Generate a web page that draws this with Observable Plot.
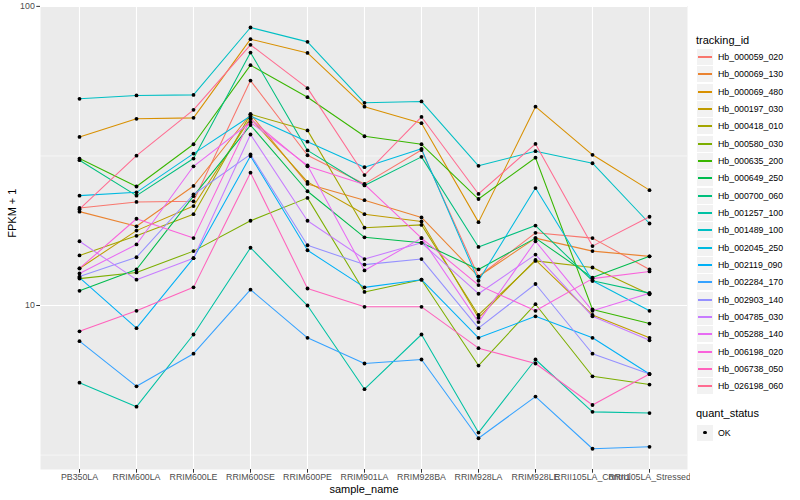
<!DOCTYPE html>
<html><head><meta charset="utf-8">
<script src="https://cdn.jsdelivr.net/npm/d3@7"></script>
<script src="https://cdn.jsdelivr.net/npm/@observablehq/plot@0.6"></script>
<style>
body{margin:0;background:#fff;font-family:"Liberation Sans",Arial,Helvetica,sans-serif;}
#wrap{position:relative;width:800px;height:500px;overflow:hidden;}
#chart{position:absolute;left:0;top:0;}
#legend{position:absolute;left:696px;top:0;width:104px;}
.ltitle{position:absolute;left:0;font-size:11px;color:#000;white-space:nowrap;line-height:13px;}
.lrow{position:absolute;left:0;height:17px;display:flex;align-items:center;}
.lkey{width:16px;height:16px;background:#F2F2F2;border:0.5px solid #fff;position:relative;flex:none;}
.lline{position:absolute;left:1px;width:14px;top:7px;height:2px;}
.ldot{position:absolute;left:6.2px;top:6.2px;width:3.8px;height:3.8px;border-radius:50%;background:#000;}
.llab{font-size:8.8px;color:#000;margin-left:4px;white-space:nowrap;}
</style></head><body>
<div id="wrap"><div id="chart"></div><div id="legend"></div></div>
<script>
const samples = ["PB350LA","RRIM600LA","RRIM600LE","RRIM600SE","RRIM600PE","RRIM901LA","RRIM928BA","RRIM928LA","RRIM928LE","RRII105LA_Control","RRII105LA_Stressed"];
const trackingIds = ["Hb_000059_020","Hb_000069_130","Hb_000069_480","Hb_000197_030","Hb_000418_010","Hb_000580_030","Hb_000635_200","Hb_000649_250","Hb_000700_060","Hb_001257_100","Hb_001489_100","Hb_002045_250","Hb_002119_090","Hb_002284_170","Hb_002903_140","Hb_004785_030","Hb_005288_140","Hb_006198_020","Hb_006738_050","Hb_026198_060"];
const palette = ["#F8766D","#EA8331","#D89000","#C09B00","#A3A500","#7CAE00","#39B600","#00BB4E","#00BF7D","#00C1A3","#00BFC4","#00BAE0","#00B0F6","#35A2FF","#9590FF","#C77CFF","#E76BF3","#FA62DB","#FF62BC","#FF6C91"];

// FPKM + 1 per sample (same order as samples)
const Hb_000059_020 = [21.2, 22.2, 22.3, 56.5, 31.8, 25.5, 33.1, 12.5, 17.5, 16.8, 13.2];
const Hb_000069_130 = [20.6, 18.4, 25.1, 43.6, 25.5, 22.5, 19.7, 12.5, 16.8, 15.2, 14.6];
const Hb_000069_480 = [36.6, 42.1, 42.4, 77.7, 69.9, 46.2, 40.7, 19.0, 46.2, 31.9, 24.3];
const Hb_000197_030 = [13.3, 17.8, 21.5, 42.3, 25.9, 20.2, 19.1, 9.1, 14.2, 9.3, 7.8];
const Hb_000418_010 = [14.7, 17.1, 20.2, 43.6, 38.5, 18.2, 18.6, 9.3, 14.1, 13.4, 10.9];
const Hb_000580_030 = [12.3, 12.9, 15.2, 19.2, 22.9, 11.1, 12.2, 6.3, 10.1, 5.8, 5.44];
const Hb_000635_200 = [31.0, 25.0, 34.6, 63.6, 49.7, 36.8, 34.6, 22.7, 31.2, 9.7, 8.7];
const Hb_000649_250 = [11.2, 13.2, 23.2, 40.1, 24.1, 16.9, 16.2, 13.2, 16.8, 12.4, 14.6];
const Hb_000700_060 = [30.6, 23.3, 31.0, 70.1, 33.0, 25.2, 31.4, 15.7, 18.5, 12.1, 11.0];
const Hb_001257_100 = [5.52, 4.59, 8.0, 15.6, 10.0, 5.25, 8.0, 3.76, 6.6, 4.41, 4.37];
const Hb_001489_100 = [49.1, 50.4, 50.6, 85.0, 76.1, 47.6, 48.1, 29.3, 32.8, 29.9, 18.8];
const Hb_002045_250 = [23.3, 23.9, 32.2, 43.0, 35.3, 29.0, 33.4, 12.1, 24.7, 12.1, 9.6];
const Hb_002119_090 = [12.4, 8.4, 14.4, 31.6, 15.3, 11.5, 12.2, 7.8, 9.2, 7.8, 5.9];
const Hb_002284_170 = [7.6, 5.37, 6.9, 11.3, 7.8, 6.4, 6.6, 3.6, 4.96, 3.32, 3.37];
const Hb_002903_140 = [12.5, 14.5, 23.5, 32.0, 15.9, 13.7, 14.3, 8.4, 11.8, 6.9, 5.9];
const Hb_004785_030 = [16.4, 12.2, 14.4, 37.3, 19.2, 14.3, 16.2, 10.95, 14.8, 9.2, 7.65];
const Hb_005288_140 = [12.8, 16.0, 29.2, 41.0, 29.4, 13.1, 16.8, 8.8, 16.4, 9.6, 11.0];
const Hb_006198_020 = [13.3, 19.5, 16.8, 42.0, 29.2, 25.4, 16.8, 11.7, 9.6, 12.3, 13.0];
const Hb_006738_050 = [8.2, 9.6, 11.5, 27.8, 11.4, 9.9, 9.9, 7.2, 6.4, 4.65, 5.9];
const Hb_026198_060 = [21.0, 31.7, 45.1, 74.4, 53.3, 27.3, 42.7, 23.6, 34.7, 15.8, 19.8];

const seriesValues = [Hb_000059_020,Hb_000069_130,Hb_000069_480,Hb_000197_030,Hb_000418_010,Hb_000580_030,Hb_000635_200,Hb_000649_250,Hb_000700_060,Hb_001257_100,Hb_001489_100,Hb_002045_250,Hb_002119_090,Hb_002284_170,Hb_002903_140,Hb_004785_030,Hb_005288_140,Hb_006198_020,Hb_006738_050,Hb_026198_060];
const yTicks = [10, 100];
const yMinor = [3.1623, 31.623];
const quantStatus = ["OK"];

const rows = trackingIds.flatMap((id, i) => samples.map((s, j) => ({id, sample: s, fpkm: seriesValues[i][j]})));

const chart = Plot.plot({
  width: 690, height: 500,
  marginLeft: 40, marginRight: 3, marginTop: 5.5, marginBottom: 31,
  style: {fontFamily: '"Liberation Sans", Arial, sans-serif', fontSize: "8.8px", color: "#4D4D4D", background: "transparent"},
  x: {type: "point", domain: samples, padding: 0.6, label: null},
  y: {type: "log", domain: [2.83, 100.3], label: null},
  color: {domain: trackingIds, range: palette},
  marks: [
    Plot.frame({fill: "#EBEBEB", stroke: "none"}),
    Plot.gridY(yMinor, {stroke: "#fff", strokeOpacity: 1, strokeWidth: 0.55}),
    Plot.gridY(yTicks, {stroke: "#fff", strokeOpacity: 1, strokeWidth: 1.1}),
    Plot.gridX(samples, {stroke: "#fff", strokeOpacity: 1, strokeWidth: 1.1}),
    Plot.line(rows, {x: "sample", y: "fpkm", z: "id", stroke: "id", strokeWidth: 1.05}),
    Plot.dot(rows, {x: "sample", y: "fpkm", r: 1.9, fill: "#000", stroke: "none"}),
    Plot.axisX({tickSize: 3.7, tickPadding: 1, stroke: "#333", fill: "#4D4D4D", fontSize: "8.8px", label: null}),
    Plot.axisY(yTicks, {tickSize: 3.7, tickPadding: 2, tickFormat: d => String(d), stroke: "#333", fill: "#4D4D4D", fontSize: "8.8px", label: null}),
    Plot.text(["sample_name"], {frameAnchor: "bottom", dy: 23, fill: "#000", fontSize: "11px", text: d => d}),
    Plot.text(["FPKM + 1"], {frameAnchor: "left", dx: -28, rotate: -90, fill: "#000", fontSize: "11px", text: d => d})
  ]
});
document.getElementById("chart").appendChild(chart);

// legend
const lg = d3.select("#legend");
lg.append("div").attr("class", "ltitle").style("top", "33.5px").text("tracking_id");
trackingIds.forEach((id, i) => {
  const r = lg.append("div").attr("class", "lrow").style("top", Math.round(48 + i * 17.33) + "px");
  const k = r.append("div").attr("class", "lkey");
  k.append("div").attr("class", "lline").style("background", palette[i]);
  r.append("div").attr("class", "llab").text(id);
});
lg.append("div").attr("class", "ltitle").style("top", "406.5px").text("quant_status");
quantStatus.forEach((q, i) => {
  const r = lg.append("div").attr("class", "lrow").style("top", Math.round(423.5 + i * 17.33) + "px");
  const k = r.append("div").attr("class", "lkey");
  k.append("div").attr("class", "ldot");
  r.append("div").attr("class", "llab").text(q);
});
</script>
</body></html>
